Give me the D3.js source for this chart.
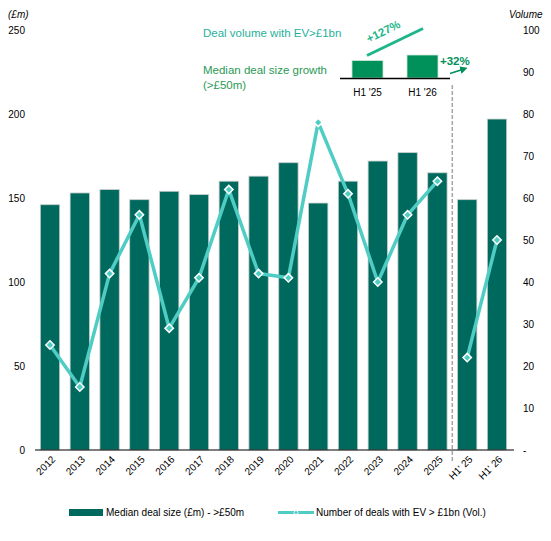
<!DOCTYPE html>
<html>
<head>
<meta charset="utf-8">
<script src="https://cdn.jsdelivr.net/npm/d3@7"></script>
<style>
  body { margin: 0; background: #fff; }
  text { font-family: "Liberation Sans", Arial, sans-serif; }
</style>
</head>
<body>
<div class="chart"></div>
<script>
// Chart data
const periods = ["2012", "2013", "2014", "2015", "2016", "2017", "2018", "2019",
                 "2020", "2021", "2022", "2023", "2024", "2025", "H1' 25", "H1' 26"];
const medianDealSize = [146, 153, 155, 149, 154, 152, 160, 163,
                        171, 147, 160, 172, 177, 165, 149, 197];
const dealsOver1bn = [25, 15, 42, 56, 29, 41, 62, 42,
                      41, 78, 61, 40, 56, 64, 22, 50];
const leftTicks = [0, 50, 100, 150, 200, 250];
const rightTicks = [0, 10, 20, 30, 40, 50, 60, 70, 80, 90, 100];

// Inset (H1 comparison)
const insetLabels = ["H1 '25", "H1 '26"];
const insetValues = [149, 197];

const width = 551;
const height = 541;
const margin = {top: 30, left: 35, right: 39, bottom: 91};

const barColor = "#00695d";
const lineColor = "#4fcdc4";

const svg = d3.select('.chart')
    .append('svg')
    .attr('width', width)
    .attr('height', height);

// Scales
const xScale = d3.scaleBand()
    .domain(periods)
    .range([35.1, 511.9])
    .paddingInner(0.35)
    .paddingOuter(0.175);

const yLeft = d3.scaleLinear()
    .domain([0, 250])
    .range([height - margin.bottom, margin.top]);

const yRight = d3.scaleLinear()
    .domain([0, 100])
    .range([height - margin.bottom, margin.top]);

// Bars
svg.selectAll('.bar')
    .data(periods)
    .enter()
    .append('rect')
    .attr('class', 'bar')
    .attr('x', d => xScale(d))
    .attr('width', xScale.bandwidth())
    .attr('y', (d, i) => yLeft(medianDealSize[i]))
    .attr('height', (d, i) => yLeft(0) - yLeft(medianDealSize[i]))
    .attr('fill', barColor)
    .attr('stroke', '#c9cfcd')
    .attr('stroke-width', 0.8);

// Line (two parts: annual, then H1)
const lineGen = d3.line()
    .x(d => xScale(d.p) + xScale.bandwidth() / 2)
    .y(d => yRight(d.v));

const points = periods.map((p, i) => ({p: p, v: dealsOver1bn[i]}));
const annual = points.slice(0, 14);
const halfYear = points.slice(14);

[annual, halfYear].forEach(seg => {
    svg.append('path')
        .datum(seg)
        .attr('d', lineGen)
        .attr('fill', 'none')
        .attr('stroke', lineColor)
        .attr('stroke-width', 3.5)
        .attr('stroke-linejoin', 'round');
});

const diamond = d3.symbol().type(d3.symbolDiamond2).size(45);
svg.selectAll('.marker')
    .data(points)
    .enter()
    .append('path')
    .attr('class', 'marker')
    .attr('d', diamond)
    .attr('transform', d => `translate(${xScale(d.p) + xScale.bandwidth() / 2},${yRight(d.v)})`)
    .attr('fill', lineColor)
    .attr('stroke', '#fff')
    .attr('stroke-width', 1.5);

// Dashed separator between full years and half years
const sepX = (xScale("2025") + xScale.bandwidth() + xScale("H1' 25")) / 2;
svg.append('line')
    .attr('x1', sepX).attr('x2', sepX)
    .attr('y1', 85).attr('y2', 463)
    .attr('stroke', '#a6a6a6')
    .attr('stroke-width', 1.5)
    .attr('stroke-dasharray', '4,2');

// X axis line
svg.append('line')
    .attr('x1', 35).attr('x2', 514)
    .attr('y1', yLeft(0)).attr('y2', yLeft(0))
    .attr('stroke', '#000')
    .attr('stroke-width', 1.2);

// Left axis labels
svg.selectAll('.ltick')
    .data(leftTicks)
    .enter()
    .append('text')
    .attr('x', 25)
    .attr('y', d => yLeft(d))
    .attr('dy', '0.35em')
    .attr('text-anchor', 'end')
    .attr('font-size', 10)
    .text(d => d);

// Right axis labels
svg.selectAll('.rtick')
    .data(rightTicks)
    .enter()
    .append('text')
    .attr('x', 523)
    .attr('y', d => yRight(d))
    .attr('dy', '0.35em')
    .attr('font-size', 10)
    .text(d => d === 0 ? "  -" : d);

// Axis titles
svg.append('text')
    .attr('x', 8).attr('y', 18)
    .attr('font-size', 10)
    .attr('font-style', 'italic')
    .text('(£m)');

svg.append('text')
    .attr('x', 509).attr('y', 18)
    .attr('font-size', 10)
    .attr('font-style', 'italic')
    .text('Volume');

// X tick labels, rotated
svg.selectAll('.xtick')
    .data(periods)
    .enter()
    .append('text')
    .attr('transform', d => `translate(${xScale(d) + xScale.bandwidth() / 2 + 6},${yLeft(0) + 10}) rotate(-45)`)
    .attr('text-anchor', 'end')
    .attr('font-size', 10)
    .text(d => d);

// Legend
svg.append('rect')
    .attr('x', 69).attr('y', 509)
    .attr('width', 34).attr('height', 7)
    .attr('fill', barColor);

svg.append('text')
    .attr('x', 106).attr('y', 516)
    .attr('font-size', 10)
    .text('Median deal size (£m) - >£50m');

svg.append('line')
    .attr('x1', 278).attr('x2', 314)
    .attr('y1', 512.5).attr('y2', 512.5)
    .attr('stroke', lineColor)
    .attr('stroke-width', 3);

svg.append('path')
    .attr('d', d3.symbol().type(d3.symbolDiamond2).size(14))
    .attr('transform', 'translate(296,512.5)')
    .attr('fill', lineColor)
    .attr('stroke', '#fff')
    .attr('stroke-width', 1);

svg.append('text')
    .attr('x', 316).attr('y', 516)
    .attr('font-size', 10)
    .text('Number of deals with EV > £1bn (Vol.)');

// Inset callout
svg.append('text')
    .attr('x', 203).attr('y', 37)
    .attr('font-size', 11.5)
    .attr('fill', '#1fb19b')
    .text('Deal volume with EV>£1bn');

svg.append('text')
    .attr('x', 203).attr('y', 74)
    .attr('font-size', 11.5)
    .attr('fill', '#2a9a55')
    .text('Median deal size growth');

svg.append('text')
    .attr('x', 203).attr('y', 89)
    .attr('font-size', 11.5)
    .attr('fill', '#2a9a55')
    .text('(>£50m)');

const insetX = d3.scaleBand()
    .domain(insetLabels)
    .range([340, 450])
    .paddingInner(0.436)
    .paddingOuter(0.218);

const insetY = d3.scaleLinear()
    .domain([0, 197])
    .range([78, 55]);

svg.selectAll('.ibar')
    .data(insetLabels)
    .enter()
    .append('rect')
    .attr('x', d => insetX(d))
    .attr('width', insetX.bandwidth())
    .attr('y', (d, i) => insetY(insetValues[i]))
    .attr('height', (d, i) => insetY(0) - insetY(insetValues[i]))
    .attr('fill', '#00915a')
    .attr('stroke', '#cfe6d8')
    .attr('stroke-width', 0.8);

svg.append('line')
    .attr('x1', 340).attr('x2', 450)
    .attr('y1', 78.5).attr('y2', 78.5)
    .attr('stroke', '#000')
    .attr('stroke-width', 1.3);

svg.selectAll('.ilabel')
    .data(insetLabels)
    .enter()
    .append('text')
    .attr('x', d => insetX(d) + insetX.bandwidth() / 2)
    .attr('y', 96)
    .attr('text-anchor', 'middle')
    .attr('font-size', 10)
    .text(d => d);

// +127% arrow line
svg.append('line')
    .attr('x1', 367).attr('y1', 55.5)
    .attr('x2', 423).attr('y2', 28.5)
    .attr('stroke', '#1db589')
    .attr('stroke-width', 3);

svg.append('text')
    .attr('transform', 'translate(385,35) rotate(-26)')
    .attr('text-anchor', 'middle')
    .attr('font-size', 11.5)
    .attr('font-weight', 'bold')
    .attr('fill', '#1db589')
    .text('+127%');

// +32% arrow
svg.append('defs').append('marker')
    .attr('id', 'arrowhead')
    .attr('viewBox', '0 0 10 10')
    .attr('refX', 5).attr('refY', 5)
    .attr('markerWidth', 5).attr('markerHeight', 5)
    .attr('orient', 'auto')
    .append('path')
    .attr('d', 'M0,0 L10,5 L0,10 Z')
    .attr('fill', '#00915a');

svg.append('line')
    .attr('x1', 450).attr('y1', 73.5)
    .attr('x2', 464).attr('y2', 69)
    .attr('stroke', '#00915a')
    .attr('stroke-width', 1.5)
    .attr('marker-end', 'url(#arrowhead)');

svg.append('text')
    .attr('x', 440).attr('y', 65)
    .attr('font-size', 11.5)
    .attr('font-weight', 'bold')
    .attr('fill', '#00915a')
    .text('+32%');
</script>
</body>
</html>
